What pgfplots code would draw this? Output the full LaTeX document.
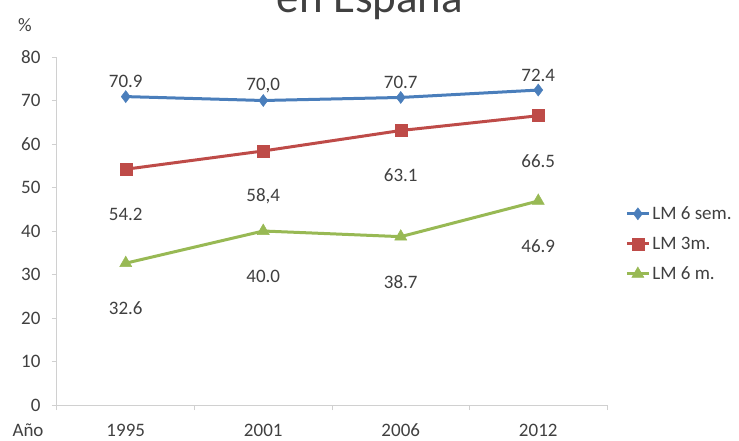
\documentclass[border=0pt]{standalone}
\usepackage{fontspec}
\setmainfont{Carlito}
\usepackage{pgfplots}
\pgfplotsset{compat=1.18}

\definecolor{lblue}{HTML}{4A7EBB}
\definecolor{lred}{HTML}{BE4B48}
\definecolor{lgreen}{HTML}{98B954}
\definecolor{txt}{HTML}{404040}
\definecolor{axgray}{HTML}{D0D0D0}

\newcommand\fnt{\fontsize{19}{23}\selectfont}

\begin{document}
\begin{tikzpicture}
\path[use as bounding box] (0,0) rectangle (739pt,440pt);
% title is cut by the top edge, as in the source
\node[anchor=base, text=txt, font=\fontsize{45}{54}\selectfont] at (370pt,427pt) {en España};
\node[text=txt, font=\fnt] at (25pt,415pt) {\%};
\node[text=txt, font=\fnt, anchor=base] at (28pt,4pt) {Año};
\begin{axis}[
    at={(57pt,35pt)}, anchor=south west,
    scale only axis,
    width=550pt, height=348pt,
    xmin=-0.5, xmax=3.5,
    ymin=0, ymax=80,
    xtick={0,1,2,3},
    xticklabels={1995,2001,2006,2012},
    major x tick style={draw=none},
    minor xtick={-0.5,0.5,1.5,2.5,3.5},
    ytick={0,10,...,80},
    axis lines*=left,
    axis line style={draw=axgray, line width=1pt},
    tick style={draw=axgray, line width=1pt},
    tick align=outside,
    major tick length=5pt, minor tick length=5pt,
    ticklabel style={text=txt, font=\fnt},
    xticklabel style={anchor=base, yshift=-26pt},
    yticklabel style={xshift=-8pt},
    /pgf/number format/assume math mode=true,
    clip=false,
    legend style={at={(1.033,0.463)}, anchor=west, draw=none, fill=none,
        font=\fnt, text=txt, row sep=12pt, inner sep=0pt},
    legend cell align=left,
    legend image code/.code={\draw[mark repeat=2,mark phase=2] plot coordinates {(0pt,0pt) (11pt,0pt) (22pt,0pt)};},
    every node near coord/.append style={anchor=center, text=txt, font=\fnt},
]
\addplot[color=lblue, line width=3pt, mark=diamond*, mark size=6pt,
    mark options={fill=lblue, line width=0.5pt},
    nodes near coords, point meta=explicit symbolic,
    every node near coord/.append style={yshift=15pt}]
    coordinates {(0,70.9) [70.9] (1,70.0) [70,0] (2,70.7) [70.7] (3,72.4) [72.4]};
\addlegendentry{LM 6 sem.}
\addplot[color=lred, line width=3pt, mark=square*, mark size=6pt,
    mark options={fill=lred, line width=0.5pt},
    nodes near coords, point meta=explicit symbolic,
    every node near coord/.append style={yshift=-45pt}]
    coordinates {(0,54.2) [54.2] (1,58.4) [58,4] (2,63.1) [63.1] (3,66.5) [66.5]};
\addlegendentry{LM 3m.}
\addplot[color=lgreen, line width=3pt, mark=triangle*, mark size=7pt,
    mark options={fill=lgreen, line width=0.5pt},
    nodes near coords, point meta=explicit symbolic,
    every node near coord/.append style={yshift=-45pt}]
    coordinates {(0,32.6) [32.6] (1,40.0) [40.0] (2,38.7) [38.7] (3,46.9) [46.9]};
\addlegendentry{LM 6 m.}
\end{axis}
\end{tikzpicture}
\end{document}
